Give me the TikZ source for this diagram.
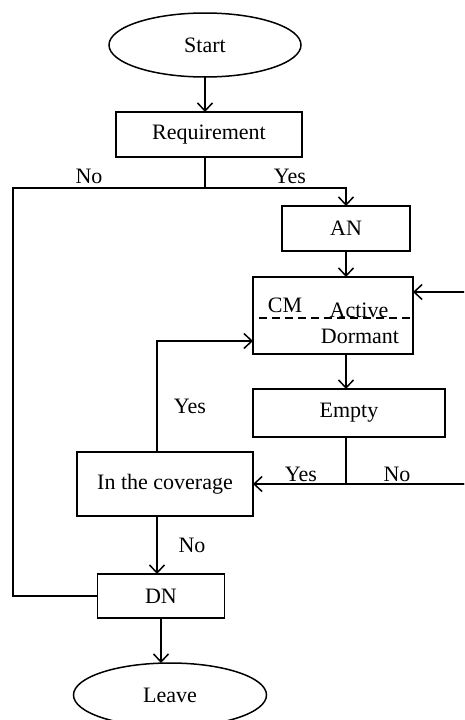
\documentclass[tikz,border=0pt]{standalone}
\usepackage{fontspec}
\setmainfont{Liberation Serif}
\usetikzlibrary{arrows.meta,shapes.geometric,calc}
\begin{document}
\begin{tikzpicture}[x=1pt,y=-1pt,
  every node/.style={font=\fontsize{22}{26}\selectfont},
  line/.style={line width=1.5pt},
  arr/.style={line width=1.5pt,-{Straight Barb[length=8pt,width=15pt,line width=1.5pt]}},
  term/.style={draw,line width=1.5pt,ellipse,inner sep=0pt,outer sep=0pt,minimum width=192pt,minimum height=64pt},
  box/.style={draw,line width=1.5pt,rectangle,inner sep=0pt,outer sep=0pt},
  lbl/.style={anchor=base,inner sep=0pt}]
\useasboundingbox (0,0) rectangle (464,720);
\clip (0,0) rectangle (464,720);

% nodes
\node[term] (start) at (205,45) {Start};
\node[box,minimum width=186pt,minimum height=45pt] (req) at (209,134.5) {Requirement};
\node[box,minimum width=128pt,minimum height=45pt] (an) at (346,228.5) {AN};
\node[box,minimum width=160pt,minimum height=77pt] (cm) at (333,315.5) {};
\node[box,minimum width=192pt,minimum height=48pt] (empty) at (349,413) {Empty};
\node[box,minimum width=176pt,minimum height=64pt] (cov) at (165,484) {In the coverage};
\node[box,minimum width=127pt,minimum height=44pt] (dn) at (161,596) {DN};
\node[term,minimum width=193pt] (leave) at (170,695) {Leave};

% texts inside CM
\node[lbl] (tcm) at (285,312) {CM};
\node[lbl] (tact) at (359,317) {Active};
\node[lbl] (tdor) at (360,343) {Dormant};
\draw[line,dash pattern=on 8pt off 5pt] ($(cm.west)+(6,2.5)$) -- ($(cm.east)+(0,2.5)$);

% coordinates
\coordinate (j1) at (205,188);
\coordinate (lc) at (13,188);
\coordinate (j2) at (346,484);
\coordinate (r2) at (470,484);
\coordinate (r1) at (470,292);

% connectors
\draw[arr] (start.south) -- (start.south |- req.north);
\draw[line] (start.south |- req.south) -- (j1);
\draw[line] (j1) -- (lc) |- (dn.west);
\draw[arr] (j1) -| (an.north);
\draw[arr] (an.south) -- (an.south |- cm.north);
\draw[arr] (an.south |- cm.south) -- (an.south |- empty.north);
\draw[line] (an.south |- empty.south) -- (j2);
\draw[arr] (r2) -- (cov.east);
\draw[arr] (j2) -- (r2) -- (r1) -- (r1 -| cm.east);
\draw[arr] ([xshift=-8pt]cov.north) |- ($(cm.south west)+(0,-13)$);
\draw[arr] ([xshift=-8pt]cov.south) -- ([xshift=-8pt]cov.south |- dn.north);
\draw[arr] (dn.south) -- (dn.south |- leave.north);

% labels
\node[lbl] (lno1) at (89,183) {No};
\node[lbl] (lyes1) at (290,183) {Yes};
\node[lbl] (lyes2) at (190,413) {Yes};
\node[lbl] (lyes3) at (301,481) {Yes};
\node[lbl] (lno3) at (397,481) {No};
\node[lbl] (lno2) at (192,552) {No};
\end{tikzpicture}
\end{document}
